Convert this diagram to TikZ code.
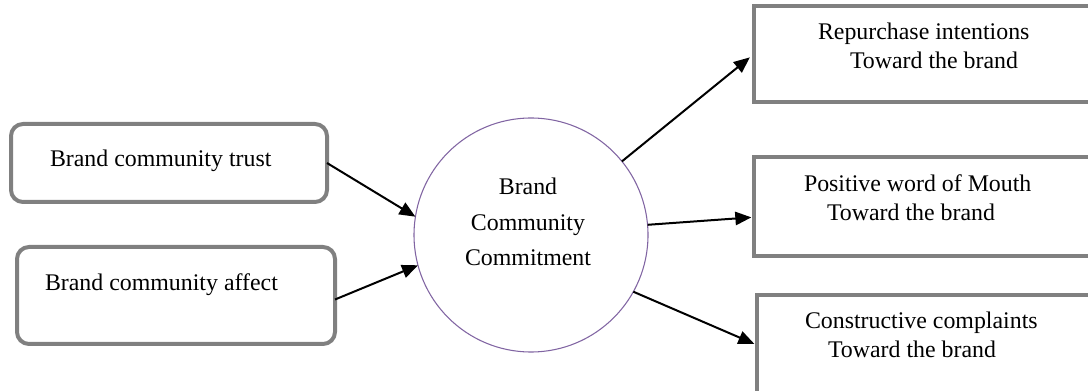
\documentclass[tikz,border=0pt]{standalone}
\usepackage{fontspec}
\setmainfont{Liberation Serif}
\usetikzlibrary{arrows.meta}
\definecolor{boxgray}{RGB}{128,128,128}
\definecolor{ringpurple}{RGB}{128,100,162}

\begin{document}
\begin{tikzpicture}[x=0.75pt,y=-0.75pt,
    every node/.style={inner sep=0pt,outer sep=0pt,font=\fontsize{17.9}{21.5}\selectfont},
    roundbox/.style={draw=boxgray,line width=3pt,rounded corners=9pt},
    squarebox/.style={draw=boxgray,line width=3pt},
    link/.style={line width=1.5pt,-{Triangle[length=12pt,width=10pt]}}]
        \useasboundingbox (0,0) rectangle (1088,391);

        \node[roundbox,minimum width=237pt,minimum height=58.5pt] (trust) at (169,163) {};
        \node[roundbox,minimum width=238.5pt,minimum height=72.75pt] (affect) at (176,295.5) {};
        \node[draw=ringpurple,line width=0.8pt,circle,minimum size=175.5pt] (commit) at (531,235) {};

        \node[squarebox,minimum width=267pt,minimum height=72pt] (rep) at (932,54) {};
        \node[squarebox,minimum width=267pt,minimum height=74.25pt] (wom) at (932,206.5) {};
        \node[squarebox,minimum width=265pt,minimum height=75pt] (cmp) at (933.5,345) {};

        \node[anchor=base west] (trusttxt) at (50,167) {Brand community trust};
        \node[anchor=base west] (affecttxt) at (45,290.5) {Brand community affect};
        \node[align=center,font=\fontsize{17.9}{26.6}\selectfont] (committxt) at (528,222.3)
            {Brand\\Community\\Commitment};

        \node[anchor=west,align=left] (reptxt) at (818,45.9)
            {Repurchase intentions\\\hspace{24pt}Toward the brand};
        \node[anchor=west,align=left] (womtxt) at (804,197.9)
            {Positive word of Mouth\\\hspace{17.25pt}Toward the brand};
        \node[anchor=west,align=left] (cmptxt) at (805,334.9)
            {Constructive complaints\\\hspace{17.25pt}Toward the brand};

        \draw[link] (trust.east) -- (commit.171);
        \draw[link] ([yshift=-3pt]affect.east) -- (commit.195);
        \draw[link,shorten >=4pt] (commit.39) -- (rep.west);
        \draw[link,shorten >=2pt] (commit.5) -- ([yshift=-8pt]wom.west);
        \draw[link,shorten >=2pt] (commit.-29) -- (cmp.west);

    \end{tikzpicture}
\end{document}
